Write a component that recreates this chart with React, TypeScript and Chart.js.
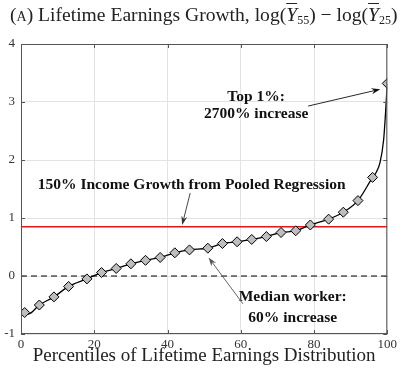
import React, { useEffect, useRef } from "react";
import { Chart, registerables } from "chart.js";

Chart.register(...registerables);

// ---- Data ----
const markerPercentiles = [1, 5, 9, 13, 18, 22, 26, 30, 34, 38, 42, 46, 51, 55, 59, 63, 67, 71, 75, 79, 84, 88, 92, 96, 100];
const markerGrowth = [-0.63, -0.5, -0.36, -0.18, -0.05, 0.06, 0.13, 0.21, 0.27, 0.32, 0.4, 0.45, 0.48, 0.56, 0.59, 0.63, 0.68, 0.75, 0.78, 0.88, 0.98, 1.1, 1.3, 1.7, 3.32];
const curvePercentiles = [1, 2, 5, 9, 13, 18, 22, 26, 30, 34, 38, 42, 46, 51, 55, 59, 63, 67, 71, 75, 79, 84, 88, 92, 96, 97, 98, 99, 99.5, 100];
const curveGrowth = [-0.63, -0.655, -0.5, -0.36, -0.18, -0.05, 0.06, 0.13, 0.21, 0.27, 0.32, 0.4, 0.45, 0.48, 0.56, 0.59, 0.63, 0.68, 0.75, 0.78, 0.88, 0.98, 1.1, 1.3, 1.7, 1.79, 1.95, 2.34, 2.78, 3.32];
const pooledGrowth = 0.85;
const xTicks = [0, 20, 40, 60, 80, 100];
const yTicks = [-1, 0, 1, 2, 3, 4];
const xLabel = "Percentiles of Lifetime Earnings Distribution";
const topLabel = ["Top 1%:", "2700% increase"];
const pooledLabel = "150% Income Growth from Pooled Regression";
const medianLabel = ["Median worker:", "60% increase"];

const SERIF = "'Liberation Serif', 'Times New Roman', serif";

function drawArrow(ctx: CanvasRenderingContext2D, x1: number, y1: number, x2: number, y2: number, color: string) {
  const ang = Math.atan2(y2 - y1, x2 - x1);
  const len = 9;
  const hw = 3;
  ctx.save();
  ctx.strokeStyle = color;
  ctx.fillStyle = color;
  ctx.lineWidth = 0.9;
  ctx.beginPath();
  ctx.moveTo(x1, y1);
  ctx.lineTo(x2 - Math.cos(ang) * 4, y2 - Math.sin(ang) * 4);
  ctx.stroke();
  const bx = x2 - Math.cos(ang) * len;
  const by = y2 - Math.sin(ang) * len;
  const nx = x2 - Math.cos(ang) * (len - 3);
  const ny = y2 - Math.sin(ang) * (len - 3);
  ctx.beginPath();
  ctx.moveTo(x2, y2);
  ctx.lineTo(bx - Math.sin(ang) * hw, by + Math.cos(ang) * hw);
  ctx.lineTo(nx, ny);
  ctx.lineTo(bx + Math.sin(ang) * hw, by - Math.cos(ang) * hw);
  ctx.closePath();
  ctx.fill();
  ctx.restore();
}

const framePlugin = {
  id: "frame",
  afterDatasetsDraw(chart: any) {
    const { ctx, chartArea, scales } = chart;
    const xs = scales.x;
    const ys = scales.y;
    const { left, right, top, bottom } = chartArea;
    ctx.save();
    // box
    ctx.strokeStyle = "#555";
    ctx.lineWidth = 1;
    ctx.strokeRect(left + 0.5, top + 0.5, right - left - 1, bottom - top - 1);
    // inner ticks
    ctx.beginPath();
    const tl = 4;
    xTicks.forEach((t) => {
      const px = Math.round(xs.getPixelForValue(t)) + 0.5;
      ctx.moveTo(px, bottom);
      ctx.lineTo(px, bottom - tl);
      ctx.moveTo(px, top);
      ctx.lineTo(px, top + tl);
    });
    yTicks.forEach((t) => {
      const py = Math.round(ys.getPixelForValue(t)) + 0.5;
      ctx.moveTo(left, py);
      ctx.lineTo(left + tl, py);
      ctx.moveTo(right, py);
      ctx.lineTo(right - tl, py);
    });
    ctx.stroke();

    // annotations
    const P = (x: number, y: number) => [xs.getPixelForValue(x), ys.getPixelForValue(y)];
    ctx.font = `bold 15.5px ${SERIF}`;
    ctx.fillStyle = "#111";
    ctx.textAlign = "center";
    ctx.textBaseline = "middle";
    let [tx, ty] = P(64.2, 3.09);
    ctx.fillText(topLabel[0], tx, ty);
    [tx, ty] = P(64.2, 2.79);
    ctx.fillText(topLabel[1], tx, ty);
    [tx, ty] = P(46.6, 1.57);
    ctx.fillText(pooledLabel, tx, ty);
    [tx, ty] = P(74.2, -0.36);
    ctx.fillText(medianLabel[0], tx, ty);
    [tx, ty] = P(74.2, -0.72);
    ctx.fillText(medianLabel[1], tx, ty);

    let [a1, b1] = P(78.4, 2.93);
    let [a2, b2] = P(98.1, 3.22);
    drawArrow(ctx, a1, b1, a2, b2, "#111");
    [a1, b1] = P(46.2, 1.43);
    [a2, b2] = P(44.0, 0.88);
    drawArrow(ctx, a1, b1, a2, b2, "#333");
    [a1, b1] = P(60.6, -0.48);
    [a2, b2] = P(51.2, 0.32);
    drawArrow(ctx, a1, b1, a2, b2, "#555");
    ctx.restore();
  },
};

function App() {
  const ref = useRef<HTMLCanvasElement | null>(null);
  useEffect(() => {
    if (!ref.current) return;
    const chart = new Chart(ref.current, {
      type: "line",
      data: {
        datasets: [
          {
            label: "curve",
            data: curvePercentiles.map((p, i) => ({ x: p, y: curveGrowth[i] })),
            borderColor: "#000",
            borderWidth: 1.3,
            pointRadius: 0,
            cubicInterpolationMode: "monotone",
            fill: false,
            order: 1,
          },
          {
            label: "markers",
            data: markerPercentiles.map((p, i) => ({ x: p, y: markerGrowth[i] })),
            showLine: false,
            pointStyle: "rectRot",
            pointRadius: 5,
            pointBackgroundColor: "#bdbdbd",
            pointBorderColor: "#000",
            pointBorderWidth: 1,
            order: 0,
          },
          {
            label: "pooled",
            data: [
              { x: 0, y: pooledGrowth },
              { x: 100, y: pooledGrowth },
            ],
            borderColor: "#e8141c",
            borderWidth: 1.6,
            pointRadius: 0,
            order: 2,
          },
          {
            label: "zero",
            data: [
              { x: 0, y: 0 },
              { x: 100, y: 0 },
            ],
            borderColor: "#000",
            borderWidth: 1,
            borderDash: [6, 4],
            pointRadius: 0,
            order: 3,
          },
        ],
      },
      options: {
        animation: false,
        responsive: false,
        layout: { padding: { top: 44, right: 8, left: 0, bottom: 0 } },
        plugins: { legend: { display: false }, tooltip: { enabled: false } },
        scales: {
          x: {
            type: "linear",
            min: 0,
            max: 100,
            afterBuildTicks: (s: any) => {
              s.ticks = xTicks.map((v) => ({ value: v }));
            },
            afterFit: (s: any) => {
              s.height = 42;
            },
            grid: { color: "#e3e3e3", drawTicks: false, lineWidth: 1 },
            border: { display: false },
            ticks: {
              padding: 3,
              color: "#333",
              font: { family: SERIF, size: 13 },
              maxRotation: 0,
            },
            title: {
              display: true,
              text: xLabel,
              color: "#222",
              font: { family: SERIF, size: 19 },
              padding: { top: 0, bottom: 9 },
            },
          },
          y: {
            type: "linear",
            min: -1,
            max: 4,
            afterBuildTicks: (s: any) => {
              s.ticks = yTicks.map((v) => ({ value: v }));
            },
            afterFit: (s: any) => {
              s.width = 21;
            },
            grid: { color: "#e3e3e3", drawTicks: false, lineWidth: 1 },
            border: { display: false },
            ticks: {
              padding: 6,
              color: "#333",
              font: { family: SERIF, size: 13 },
            },
          },
        },
      },
      plugins: [framePlugin],
    } as any);
    return () => chart.destroy();
  }, []);

  const sub: React.CSSProperties = { fontSize: "12px", verticalAlign: "-3px", lineHeight: 0 };
  const ybar: React.CSSProperties = { fontStyle: "italic", textDecoration: "overline" };

  return (
    <div style={{ position: "absolute", left: 0, top: 0, width: 400, height: 376, background: "#fff" }}>
      <canvas ref={ref} width={400} height={376} style={{ position: "absolute", left: 0, top: 0 }} />
      <div
        style={{
          position: "absolute",
          left: 10,
          top: 4,
          fontFamily: SERIF,
          fontSize: "19.6px",
          color: "#222",
          whiteSpace: "nowrap",
          lineHeight: "22px",
        }}
      >
        (<span style={{ fontVariant: "small-caps" }}>a</span>) Lifetime Earnings Growth, log(
        <span style={ybar}>Y</span>
        <span style={sub}>55</span>) − log(<span style={ybar}>Y</span>
        <span style={sub}>25</span>)
      </div>
    </div>
  );
}

export default App;
